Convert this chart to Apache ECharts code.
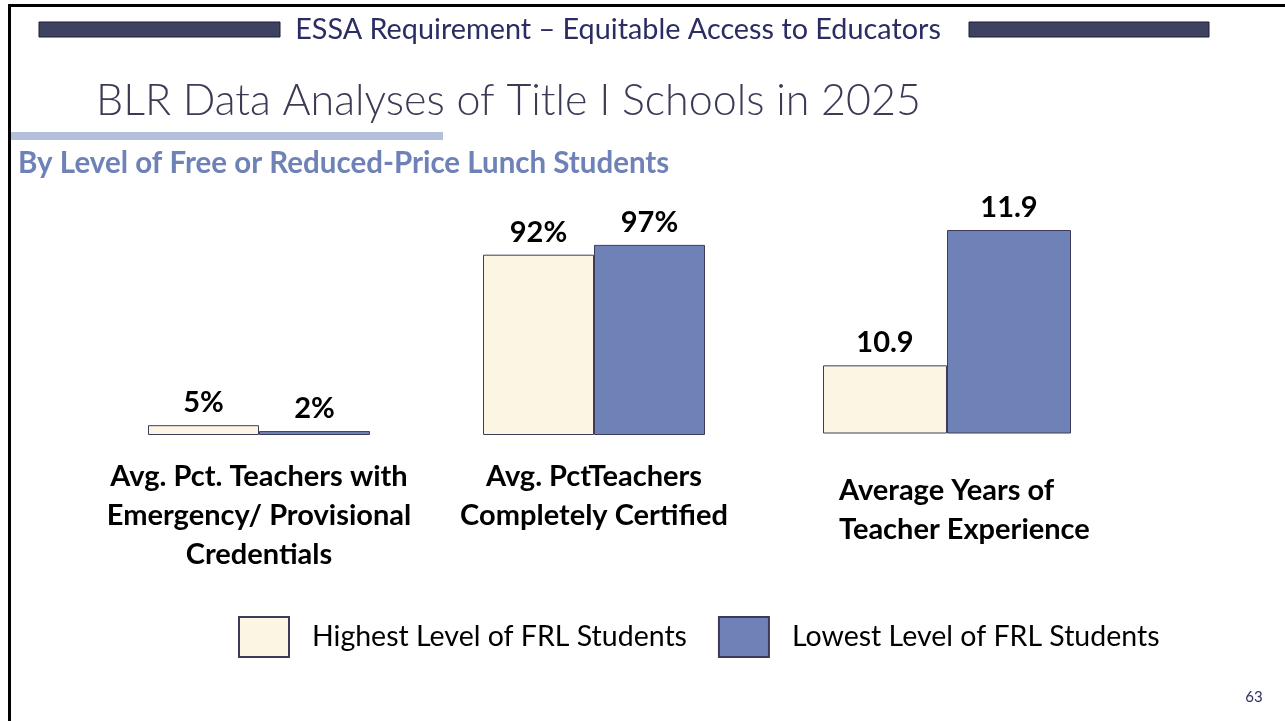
<!DOCTYPE html>
<html>
<head>
<meta charset="utf-8">
<script src="https://cdn.jsdelivr.net/npm/echarts@6/dist/echarts.min.js"></script>
<style>
  html, body { margin: 0; padding: 0; background: #fff; }
  #frlChart { width: 1285px; height: 721px; }
</style>
</head>
<body>
<div id="frlChart"></div>
<script>
const categories = [
  "Avg. Pct. Teachers with\nEmergency/ Provisional\nCredentials",
  "Avg. PctTeachers\nCompletely Certified",
  "Average Years of\nTeacher Experience"
];
const seriesNames = ["Highest Level of FRL Students", "Lowest Level of FRL Students"];
const highestFRL = [5, 92, 10.9];
const lowestFRL = [2, 97, 11.9];
const valueSuffix = ["%", "%", ""];

const cream = "#fdf5e4";
const blue = "#6f82b7";
const edge = "#3c3c58";
const font = "Lato";

// one little grid per measure, like the slide
const grids = [
  { left: 148, top: 239, width: 222, height: 196 },
  { left: 483, top: 239, width: 222, height: 196 },
  { left: 823, top: 230, width: 248, height: 203 }
];
const yRanges = [[0, 100], [0, 100], [10.4, 11.9]];

let frlChart = echarts.init(document.getElementById("frlChart"));

const xAxes = categories.map((c, i) => ({
  type: "category",
  gridIndex: i,
  data: [c],
  axisLine: { show: false },
  axisTick: { show: false },
  axisLabel: {
    interval: 0,
    margin: i === 2 ? 38 : 22,
    align: i === 2 ? "left" : "center",
    padding: i === 2 ? [0, 0, 0, -108] : 0,
    lineHeight: 39,
    fontFamily: font,
    fontWeight: "bold",
    fontSize: 29,
    color: "#000"
  }
}));

const yAxes = yRanges.map((r, i) => ({
  type: "value",
  gridIndex: i,
  min: r[0],
  max: r[1],
  show: false
}));

const series = [];
[highestFRL, lowestFRL].forEach((vals, s) => {
  vals.forEach((v, i) => {
    series.push({
      name: seriesNames[s],
      type: "bar",
      xAxisIndex: i,
      yAxisIndex: i,
      data: [v],
      barWidth: grids[i].width / 2,
      barGap: "0%",
      itemStyle: {
        color: s === 0 ? cream : blue,
        borderColor: edge,
        borderWidth: 1
      },
      label: {
        show: true,
        position: "top",
        distance: 8,
        formatter: p => p.value + valueSuffix[i],
        fontFamily: font,
        fontWeight: "bold",
        fontSize: 29,
        color: "#000"
      },
      silent: true
    });
  });
});

frlChart.setOption({
  animation: false,
  backgroundColor: "#fff",
  grid: grids,
  xAxis: xAxes,
  yAxis: yAxes,
  series: series,
  legend: {
    data: seriesNames,
    left: 233,
    top: 611,
    itemWidth: 50,
    itemHeight: 40,
    itemGap: 31,
    icon: "rect",
    textStyle: {
      fontFamily: font,
      fontSize: 28.5,
      color: "#000",
      padding: [0, 0, 0, 18]
    }
  },
  graphic: [
    // slide frame
    { type: "rect", shape: { x: 8, y: 4, width: 1285, height: 3 }, style: { fill: "#000" } },
    { type: "rect", shape: { x: 8, y: 4, width: 3, height: 721 }, style: { fill: "#000" } },
    // header bars
    { type: "rect", shape: { x: 39, y: 22, width: 241, height: 15 }, style: { fill: "#3e4260", stroke: "#1c1c30", lineWidth: 1 } },
    { type: "rect", shape: { x: 969, y: 22, width: 240, height: 15 }, style: { fill: "#3e4260", stroke: "#1c1c30", lineWidth: 1 } },
    {
      type: "text", x: 618, y: 30,
      style: { text: "ESSA Requirement – Equitable Access to Educators", font: "28.8px Lato", fill: "#2b2d62", align: "center", verticalAlign: "middle" }
    },
    {
      type: "text", x: 96, y: 101,
      style: { text: "BLR Data Analyses of Title I Schools in 2025", font: "300 43px Lato", fill: "#3b3b55", align: "left", verticalAlign: "middle" }
    },
    { type: "rect", shape: { x: 11, y: 132, width: 432, height: 8 }, style: { fill: "#b4bfdb" } },
    {
      type: "text", x: 18, y: 163,
      style: { text: "By Level of Free or Reduced-Price Lunch Students", font: "bold 29.5px Lato", fill: "#6f82b8", align: "left", verticalAlign: "middle" }
    },
    {
      type: "text", x: 1254, y: 697,
      style: { text: "63", font: "15px Lato", fill: "#2b2d62", align: "center", verticalAlign: "middle" }
    }
  ]
});

window.addEventListener("resize", () => {
  frlChart.resize();
});
</script>
</body>
</html>
